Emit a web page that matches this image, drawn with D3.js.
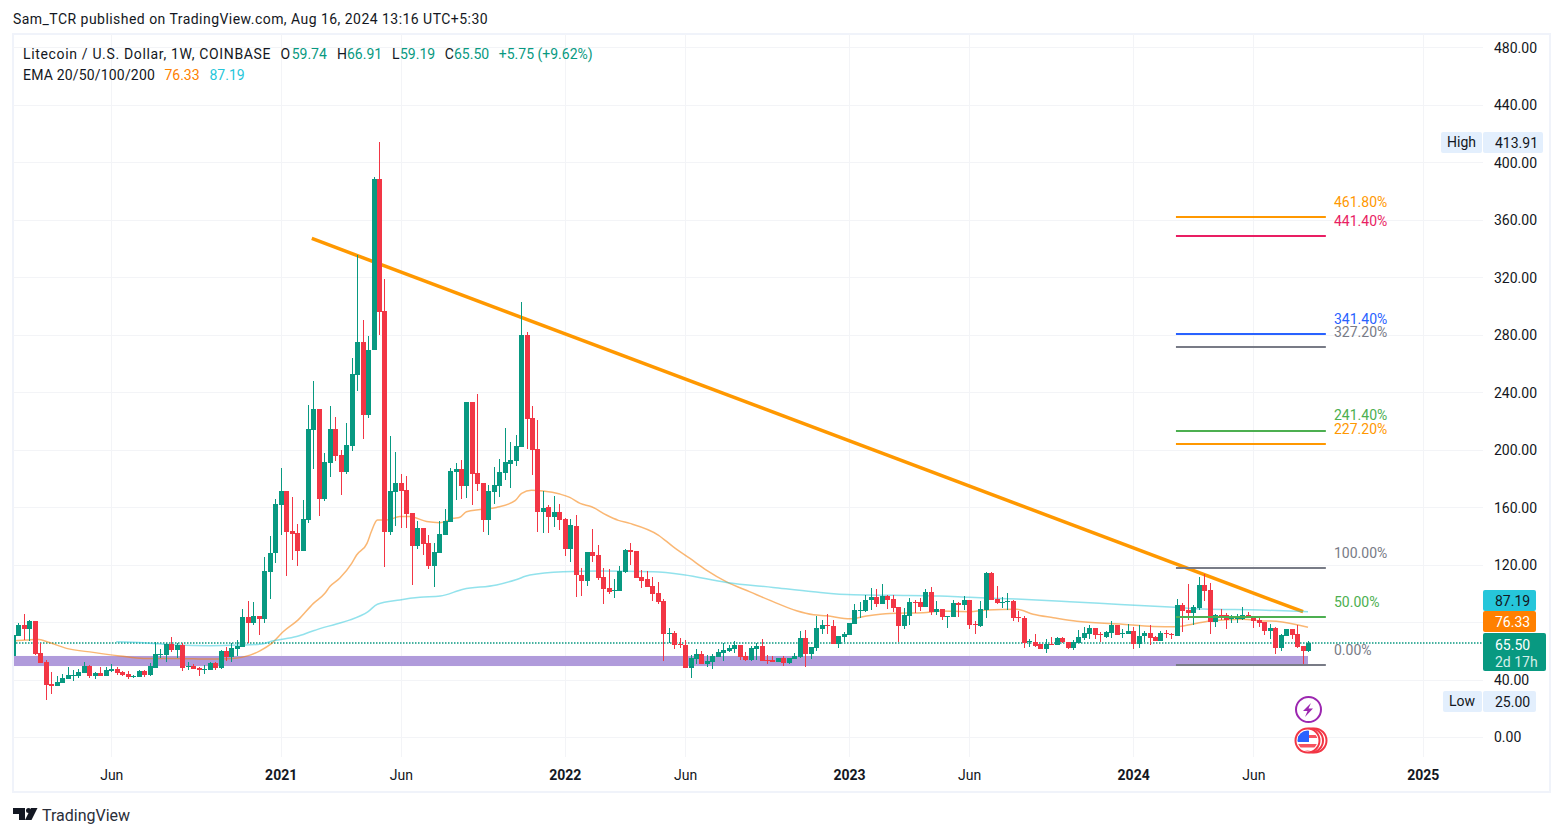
<!DOCTYPE html>
<html>
<head>
<meta charset="utf-8">
<script src="https://cdn.jsdelivr.net/npm/d3@7"></script>
<style>
html, body { margin:0; padding:0; background:#fff; }
svg { display:block; }
text { font-family:Roboto, sans-serif; font-size:14px; fill:#131722; }
.axis path, .axis line { display:none; }
.axis .domain { display:none; }
</style>
</head>
<body>
<div id="chart"></div>
<script>
const opens = [56.6,70.3,77.9,75.2,80.7,58.5,52.2,36.9,35.5,37.6,40.3,42.7,42.4,44.5,49.4,42.4,44.5,42.4,46,47.3,45.2,43.8,41.7,41.7,45.9,43.1,48,57.1,57.1,64.7,60.5,64,48.7,49.4,48,46.6,46.6,51.5,48,59.8,55.7,61.2,62.6,83.5,79.1,84.2,82.2,114.9,128.1,161.5,171.3,143.4,142,129.5,151.1,213.7,228.3,165.7,190.8,214.4,196.3,184.5,202.8,252,274.9,224.1,269.4,388.4,296.5,142.7,170.6,176.8,172,156,133,145.5,135.1,119.1,128.1,140.6,149.7,184.5,186.5,174.7,233.1,183.7,176.8,151,170.5,174.7,183.7,190,192.1,201.8,279.8,222,200.4,156.6,160,153.1,156.6,151.7,130.8,146.8,112.7,108.6,128.7,126.7,111.3,103.7,101.6,101.6,114.8,130.1,129.4,111.3,110,105.1,100.2,94.6,71.7,72.4,64.7,64,48,54.2,57.7,50.8,52.2,55.6,58.4,59.8,61.2,64,56.3,53.6,61.2,63.3,53.3,53.6,52.2,55,51.5,54.2,55.6,68.9,57.7,61.9,75.1,77.9,77.2,64.7,69.6,71,78.6,87.7,87.7,95.3,97.4,92.5,98.1,96,90.4,77.2,84.2,94.1,93.9,90.4,100.9,87,89.1,83.5,83.5,93.3,91.9,95.4,78.5,77.3,88.4,114.2,96,93.5,94,94.7,83.5,82.8,65.9,66.1,64.7,61.2,64.7,64,68.9,66.1,62,65.4,68.9,71.7,75.9,71.7,69.6,72.4,78,71.9,71.7,73.8,64.7,70.3,72.4,69.6,66.8,72.4,71.9,70.3,91.9,88.4,86.3,89.8,105.8,102.4,80.1,85,85,82.2,82.2,82.2,85,84.3,81.5,80.1,73.8,75.9,62,70.3,75.2,71.7,63.4,59.74];
const highs = [71,79.6,85.6,81.4,80.7,65.2,53.6,45.2,42.4,43.8,48.7,46.6,47.5,52.2,50.1,45.2,48.7,48.7,50.8,48.5,45.9,45.9,42.9,46.4,46.6,51.7,65.9,61.2,65.2,69.6,65.2,65.2,52.2,50.8,48.7,50.1,52.2,52.2,60.5,62.4,65.2,67.5,89,94.6,93.9,84.2,125.3,139.9,165.9,187.3,171.3,167.1,148.3,165,231.1,247.8,228.3,197.7,230.4,222.7,199.8,218.6,263.8,335.5,290.3,279.1,389.8,414,318.8,209.5,198.4,183.1,181.7,156,150.4,145.5,140.6,135.1,150.4,158.7,187.3,190.7,192.8,233.1,233.1,238.7,176.8,175.4,187.9,193.5,215,205.3,210.2,302.8,281.9,230.4,220.6,171.2,161.5,167.7,162.2,152.4,151.7,154.5,117.6,128.7,144.8,133.6,117.6,116.9,110,119,130.8,135,129.4,116.2,115.5,111.3,107.9,96,75.6,74,68.6,67.5,57,61.2,59.8,57,57.7,61,65.4,64,66.6,64,59.1,63.3,65.4,68.2,57,56.3,55,56.3,55,58.4,73.5,74.4,62.6,84.2,81.4,85.6,81.4,70.3,73,79.3,92.5,93.9,98.8,103.7,103,106.5,98.8,98.8,90.4,89.8,96.7,95.3,96.7,103,104.4,94.6,89.1,84.2,95.4,94,98.1,95.4,80.7,94.7,114.9,114.9,105.1,97.4,100.2,95.4,87.7,84.2,68,71.7,64.7,68.2,69.6,69.6,69.6,66.1,67.5,74.5,76.6,78,75.9,73,73.8,80.7,78,75.2,78.7,76.6,78,73.8,78,70.3,73.8,74.5,72.6,96,93.3,106.5,91.9,111.4,113.5,107.2,85.7,89.1,86.4,85,85.7,90.5,87.1,84.3,83,80.1,79,76.6,71.7,75.2,75.2,78,63.4,66.91];
const lows = [56.6,70.3,67.5,67,57.1,51.7,25.7,29.9,35.5,37.6,40.3,39.2,41,44.5,41,40.6,42.4,42.4,45.2,43.1,42.4,40.6,41.3,41.7,41.7,42.4,48,55.2,52.2,59.1,54.7,45.9,46.4,47.3,42.4,43.8,46.6,46.6,47.3,52.9,52.2,56.4,62.6,65.4,77.9,71,79.6,96.1,121.2,140.6,112.1,123.2,119.1,129.5,149,186.6,153.9,164.3,181,192.1,168.5,183.1,199.1,240.8,207.5,222,269.4,279.8,118.4,140.6,146.9,145.5,145.3,105.8,130.9,126.7,117,104.4,128.1,140.6,149.7,165,165.6,166.3,161.5,171.2,142.7,140.6,162.2,167,178.9,173.3,188.6,201.8,200.4,182.3,142.7,142,142,146.2,144.1,126,121.8,97.4,98.1,105.1,121.8,109.3,92.6,99.5,96.7,101.6,114.1,119.7,110.7,103.7,104.4,94.6,92.6,52.9,65.2,61,61.9,48,41,50.8,50.8,48.7,47.3,55.6,52.9,59.1,58.4,53.6,52.9,52.9,53.6,52.9,50.8,52.2,52.2,49.4,50.8,54.2,55,48.7,54.2,59.8,71.7,71.7,64.7,61.9,66.1,71,78.6,82.8,87,88.4,90.4,92.5,89,87,66.1,75.1,77.9,86,88,90.4,84.9,84.9,81.4,75.9,83.5,83.5,88.4,75.2,71.7,76.6,82.8,95.4,92.6,89.8,88.4,80.7,80,62,62.6,62.6,61.2,58.5,64,64,65.4,61.2,60.6,65.4,67.5,68.2,68.2,66.1,68.9,68.9,71,68.9,71.7,61.3,62,66.1,64,66.8,66.8,68.9,68.5,70.3,73.1,81.5,78,88.4,94.7,71.7,76.6,81.5,75.2,79.4,79.4,81.5,82.9,75.9,76.6,71,68.2,57.8,59.9,70.3,68.2,62,50.9,59.19];
const closes = [71,77.9,75.2,80.7,57.8,51.7,36.2,35.5,38.3,41,43.1,43.4,45.2,49.4,42.4,44.5,42.4,46.6,47.3,44.5,43.1,41.7,42.4,45.9,43.1,49.4,57.8,57.8,64.7,60.5,64,48,49.4,47.3,46.6,47.3,51.5,48,59.8,55.7,61.9,63.3,83.5,79.3,84.2,82.1,115.6,128.1,162.2,171.3,142.7,141.3,129.5,151.8,214.4,228.3,165.7,191.4,214.4,195.6,184.5,203.3,252.7,274.9,224.1,269.4,388.4,295.8,142.7,171.3,176.8,171.3,155.3,133,145.5,134.4,119.1,128.8,141.3,150.4,185.2,186.6,174.7,233.1,183,176.1,151,171.2,175.4,184.4,191.4,192.8,202.5,279.8,221.3,199.7,156.6,159.4,153.1,156.6,151,130.8,147.5,112.7,108.6,128.7,126,110.7,103,100.9,102.3,115.5,130.1,128.7,110.7,108.6,104.4,99.5,94,71.7,72.4,64.2,64,48,55,57.7,50.8,52.9,56.3,59.1,60.5,61.9,64,55.6,53.6,61.9,63.3,52.9,52.9,52.2,55,51.5,55,56.3,68.9,57.7,62.6,75.6,77.9,77.2,64.7,70.3,71.7,79.3,88.4,88.4,95.3,97.4,92.5,98.1,95.3,89.8,77.2,84.9,93.9,93.7,90.4,100.9,87,89,83.5,84.2,93.3,91.9,95.4,78,77.7,89.1,114.2,95.4,93.3,94.2,94.7,82.8,82.8,65.4,66.6,63.3,61.2,64.7,64,68.9,66.1,62,66.1,69.6,72.4,75.9,71,71,73.1,78,71,72.6,73.8,64.7,70.3,72.4,68.9,66.8,72.4,71.7,71.2,91.9,87.7,86.3,90.5,105.8,101.7,80.1,85,84.3,81.5,82.9,84.3,85,83.6,80.8,79.4,73.8,75.9,62,71,75.2,71,62.7,59.9,65.5];

const ema1Bars = [0,2.5,4.4,6.8,9.8,14.7,19.6,23.9,30,36,40.3,43.4,45.2,47.3,49.5,52.2,55,57.1,58,59.8,62,62.9,64.8,65.6,66.7,68.4,70.8,72.6,75.7,78.1,80.6,81.8,83,85.5,88.5,91.9,93.1,94.9,97,100.1,101.9,103.8,105.9,108.6,110.8,112.9,118.1,120.8,123.9,126.9,130.6,134.9,139.1,143.4,146.5,148.9,153.2,156.2,160.5,166.6,169.7,175.1,178.2,183.7,186.7,190.4,194.7,202.6,208.7,213,216,219,225.1,228.2,231.2,237];
const ema1Values = [67,67.5,68,65.6,61.7,58.9,56.4,54.7,54.7,54.3,54.7,57,60,65,73.4,81.5,93,100,104.7,110.5,120.9,126.7,134.8,143,151,151,153.4,153.4,150,149.2,152.2,153,156.8,158.4,159.8,164.5,169.6,171.7,171.2,169.1,166.8,162.6,160.3,154.5,150.8,148.7,140.6,132.5,124.3,116.2,108,101,94.2,87.9,85.1,84.4,82.3,84.2,86,86.5,87.7,87.2,88.4,88.9,85.4,83,80.5,78.7,77,76.8,78.7,80.8,82,81,80.6,76.33];
const ema2Bars = [18.9,23.9,30,36,41.6,45.2,47.7,51.9,55,59.2,61.7,65,66.7,70.8,74.5,78.2,82.4,88.5,91.9,94.6,100.7,107.4,117.2,122.7,130.6,139.1,146.5,153.8,161.1,169.6,175.1,183.7,193.4,202.6,212.6,217.8,228.2,237];
const ema2Values = [66.3,65.6,64,63.6,64,64.5,67,69.9,74,78.7,81.5,87.3,92.4,95.4,97.2,98.1,102.8,105.8,109.3,112.7,115,115.5,115,113,107.6,104.1,101.1,99,98.6,98.1,97.2,96,94.2,92.3,90.3,89.1,88.4,87.19];

const priceTicks = [480,440,400,360,320,280,240,200,160,120,80,40,0];
const timeBars = [18,49,71,101,123,153,175,205,227,258];
const timeLabels = ['Jun','2021','Jun','2022','Jun','2023','Jun','2024','Jun','2025'];

const fibLevels = [461.8,441.4,341.4,327.2,241.4,227.2,100,50,0];
const fibPrices = [361.9,348.7,280.5,271.4,213,203.9,117.6,83.5,50.1];
const fibColors = ['#ff9800','#e91e63','#2962ff','#787b86','#4caf50','#ff9800','#787b86','#4caf50','#787b86'];
const fibBars = [213,240];

const trendBars = [54.7,236.1];
const trendPrices = [347,87.2];

const zonePrices = [56.4,49.4];

const width = 1563, height = 836;
const margin = {left:13, top:34, right:1550, bottom:792};
const plotRight = 1483, plotBottom = 757;

const green = '#089981', red = '#f23645';

const x = d3.scaleLinear().domain([0,237]).range([12.9,1308]);
const y = d3.scaleLinear().domain([0,480]).range([737,47.4]);

const svg = d3.select('#chart').append('svg')
.attr('width', width)
.attr('height', height);

const defs = svg.append('defs');
defs.append('clipPath').attr('id','plot')
.append('rect').attr('x',14).attr('y',margin.top).attr('width',plotRight-14).attr('height',plotBottom-margin.top);
defs.append('clipPath').attr('id','flag')
.append('circle').attr('cx',1307.5).attr('cy',740.5).attr('r',10);

// frame
svg.append('rect')
.attr('x',margin.left).attr('y',margin.top)
.attr('width',margin.right-margin.left).attr('height',margin.bottom-margin.top)
.attr('fill','none').attr('stroke','#f0f3fa').attr('stroke-width',2);

// grid
const grid = svg.append('g');
grid.selectAll('.h').data(priceTicks).enter().append('line')
.attr('x1',margin.left).attr('x2',plotRight)
.attr('y1',d => Math.round(y(d))+.5).attr('y2',d => Math.round(y(d))+.5)
.attr('stroke','#f3f4f7');
grid.selectAll('.v').data(timeBars).enter().append('line')
.attr('y1',margin.top).attr('y2',plotBottom)
.attr('x1',d => Math.round(x(d))+.5).attr('x2',d => Math.round(x(d))+.5)
.attr('stroke','#f3f4f7');

const plot = svg.append('g').attr('clip-path','url(#plot)');

// support zone
plot.append('rect')
.attr('x',margin.left).attr('width',x(237)-margin.left)
.attr('y',y(zonePrices[0])).attr('height',y(zonePrices[1])-y(zonePrices[0]))
.attr('fill','#b09bdb');

// last price
plot.append('line')
.attr('x1',margin.left).attr('x2',plotRight)
.attr('y1',Math.round(y(closes[237]))).attr('y2',Math.round(y(closes[237])))
.attr('stroke',green).attr('stroke-width',1.5).attr('stroke-dasharray','1.5 1.5');

// trend line, sits behind the candles
plot.append('path')
.attr('d',d3.line()(d3.zip(trendBars.map(x),trendPrices.map(y))))
.attr('stroke','#ff9800').attr('stroke-width',3.5).attr('fill','none');

// emas
const emaLine = d3.line().x(d => x(d[0])).y(d => y(d[1])).curve(d3.curveMonotoneX);
plot.append('path').attr('d',emaLine(d3.zip(ema1Bars,ema1Values)))
.attr('fill','none').attr('stroke','#f57c00').attr('stroke-opacity',.55).attr('stroke-width',1.5);
plot.append('path').attr('d',emaLine(d3.zip(ema2Bars,ema2Values)))
.attr('fill','none').attr('stroke','#26c6da').attr('stroke-opacity',.5).attr('stroke-width',1.5);

// candles
const candle = plot.selectAll('.candle').data(d3.range(opens.length)).enter().append('g')
.attr('fill',i => closes[i] >= opens[i] ? green : red);
candle.append('rect')
.attr('x',i => Math.round(x(i)))
.attr('width',1)
.attr('y',i => Math.round(y(highs[i])))
.attr('height',i => Math.max(1,Math.round(y(lows[i]))-Math.round(y(highs[i]))));
candle.append('rect')
.attr('x',i => Math.round(x(i))-2)
.attr('width',5)
.attr('y',i => Math.round(y(Math.max(opens[i],closes[i]))))
.attr('height',i => Math.max(1,Math.round(y(Math.min(opens[i],closes[i])))-Math.round(y(Math.max(opens[i],closes[i])))));

// fib
const fib = svg.append('g');
fib.selectAll('line').data(fibPrices).enter().append('line')
.attr('x1',x(fibBars[0])-.9).attr('x2',x(fibBars[0])+149)
.attr('y1',d => Math.round(y(d))).attr('y2',d => Math.round(y(d)))
.attr('stroke',(d,i) => fibColors[i]).attr('stroke-width',2);
fib.selectAll('text').data(fibPrices).enter().append('text')
.attr('x',1334)
.attr('y',d => y(d)-10.5)
.style('fill',(d,i) => fibColors[i])
.text((d,i) => fibLevels[i].toFixed(2)+'%');

// axes
const yAxis = svg.append('g').attr('class','axis')
.attr('transform',`translate(1494,.5)`)
.call(d3.axisRight(y).tickValues(priceTicks).tickSize(0).tickPadding(0).tickFormat(d3.format('.2f')));
yAxis.selectAll('text').attr('text-anchor','start').style('font-family','Roboto, sans-serif').style('font-size','14px').style('fill','#131722');

const xAxis = svg.append('g').attr('class','axis')
.attr('transform','translate(0,770)')
.call(d3.axisBottom(x).tickValues(timeBars).tickSize(0).tickPadding(0).tickFormat((d,i) => timeLabels[i]));
xAxis.selectAll('text').style('font-family','Roboto, sans-serif').style('font-size','14px').style('fill','#131722')
.style('font-weight',(d,i) => timeLabels[i].length > 3 ? 700 : 400);

// price badges
const badge = (bx,by,w,h,fill) => svg.append('rect').attr('x',bx).attr('y',by).attr('width',w).attr('height',h).attr('rx',2).attr('fill',fill);
const label = (tx,ty,s,fill,spacing) => svg.append('text').attr('x',tx).attr('y',ty).attr('dy','.35em').style('fill',fill).style('letter-spacing',(spacing||0)+'px').text(s);

badge(1441,132,41,21,'#e3effd');
badge(1483,132,60,21,'#e3effd');
label(1447,142,'High','#131722');
label(1495,143,'413.91','#131722');

badge(1443,691,39,21,'#e3effd');
badge(1483,691,53,21,'#e3effd');
label(1449,701,'Low','#131722');
label(1495,702,'25.00','#131722');

badge(1483,590,53,21,'#26c6da');
label(1495,601,'87.19','#131722');
badge(1483,611,53,21,'#ff8000');
label(1495,622,'76.33','#fff');
badge(1483,633,63,38,green);
label(1495,645,'65.50','#fff');
label(1495,662,'2d 17h','#d5efe9');

// header
label(13,19,'Sam_TCR published on TradingView.com, Aug 16, 2024 13:16 UTC+5:30','#131722',.46);
label(23,54,'Litecoin / U.S. Dollar, 1W, COINBASE','#131722',.66);
[['O',280.6,'59.74',291.7],['H',337,'66.91',347],['L',392,'59.19',400],['C',444.7,'65.50',454]].forEach(d => {
	label(d[1],54,d[0],'#131722');
	label(d[3],54,d[2],green);
});
label(498.8,54,'+5.75 (+9.62%)',green);
label(23,75,'EMA 20/50/100/200','#131722',.18);
label(164.4,75,'76.33','#ff8000');
label(209.5,75,'87.19','#26c6da');

// icons
const icons = svg.append('g');
icons.append('circle').attr('cx',1308.5).attr('cy',709.5).attr('r',12.5).attr('fill','#fff').attr('stroke','#9c27b0').attr('stroke-width',2);
icons.append('path').attr('d','M1311 703l-8 8h4.5l-2.5 6 8-8.5h-4.5z').attr('fill','#9c27b0');
[1314.5,1311,1307.5].forEach(cx => {
	icons.append('circle').attr('cx',cx).attr('cy',740.5).attr('r',12).attr('fill','#fff').attr('stroke','#f23645').attr('stroke-width',2);
});
const flag = icons.append('g').attr('clip-path','url(#flag)');
flag.append('path').attr('d','M1297 735h21v3h-21zM1297 744h21v3.5h-21zM1297 750h21v3h-21z').attr('fill','#f7525f');
flag.append('rect').attr('x',1297).attr('y',730).attr('width',12).attr('height',12).attr('fill','#2962ff');

// logo
const logo = svg.append('g').attr('fill','#131722');
logo.append('path').attr('d','M13 808h12v12h-6v-6h-6z');
logo.append('circle').attr('cx',28.5).attr('cy',810.5).attr('r',2.5);
logo.append('path').attr('d','M31 808h6.5l-6 12h-6.5z');
svg.append('text').attr('x',42).attr('y',821).style('font-size','16px').style('fill','#2a2e39').text('TradingView');
</script>
</body>
</html>
